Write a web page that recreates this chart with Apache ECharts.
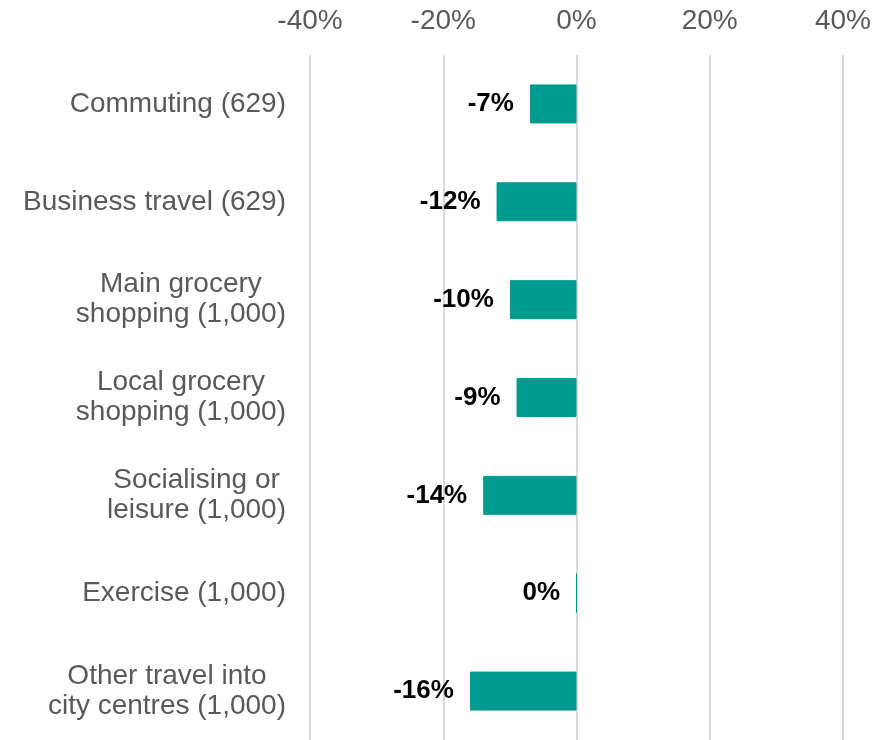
<!DOCTYPE html>
<html>
<head>
<meta charset="utf-8">
<style>
  html, body { margin: 0; padding: 0; background: #ffffff; }
  #chart { width: 892px; height: 740px; }
</style>
<script src="https://cdn.jsdelivr.net/npm/echarts@6/dist/echarts.min.js"></script>
</head>
<body>
<div id="chart"></div>
<script>
// Change in trips by purpose (base size in brackets)
const categories = [
  'Commuting (629)',
  'Business travel (629)',
  'Main grocery\nshopping (1,000)',
  'Local grocery\nshopping (1,000)',
  'Socialising or\nleisure (1,000)',
  'Exercise (1,000)',
  'Other travel into\ncity centres (1,000)'
];
const changePct = [-7, -12, -10, -9, -14, 0, -16];
const axisTicks = { min: -40, max: 40, step: 20 };

const FONT = "'Liberation Sans', Arial, sans-serif";
const GREY = '#595959';
const TEAL = '#009a8f';

const chart = echarts.init(document.getElementById('chart'));

chart.setOption({
  animation: false,
  grid: { left: 310, right: 49, top: 55, bottom: -4, containLabel: false },
  xAxis: {
    type: 'value',
    position: 'top',
    min: axisTicks.min,
    max: axisTicks.max,
    interval: axisTicks.step,
    axisLine: { show: false },
    axisTick: { show: false },
    splitLine: { show: true, lineStyle: { color: '#d9d9d9', width: 2 } },
    axisLabel: {
      margin: 20,
      color: GREY,
      fontSize: 28,
      fontFamily: FONT,
      formatter: v => v + '%'
    }
  },
  yAxis: {
    type: 'category',
    inverse: true,
    data: categories,
    axisLine: { show: false },
    axisTick: { show: false },
    splitLine: { show: false },
    axisLabel: {
      margin: 24,
      align: 'right',
      formatter: v => v.split('\n').map(s => '{c|' + s + '}').join('\n'),
      rich: {
        c: {
          align: 'center',
          color: GREY,
          fontSize: 28,
          lineHeight: 30,
          fontFamily: FONT
        }
      }
    }
  },
  series: [{
    type: 'bar',
    data: changePct,
    barWidth: 39,
    itemStyle: { color: TEAL, borderColor: TEAL, borderWidth: 1 },
    label: {
      show: true,
      position: 'left',
      distance: 16,
      color: '#000000',
      fontWeight: 'bold',
      fontSize: 26,
      fontFamily: FONT,
      formatter: p => p.value + '%'
    }
  }]
});
</script>
</body>
</html>
